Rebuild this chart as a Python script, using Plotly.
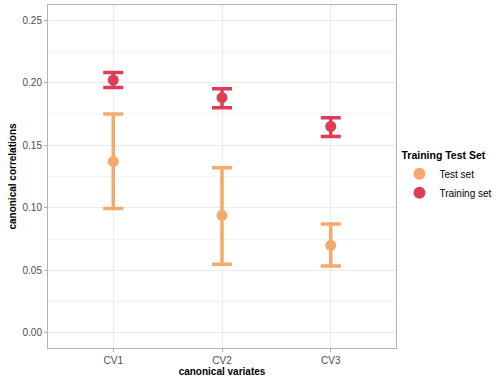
import plotly.graph_objects as go

categories = ["CV1", "CV2", "CV3"]

train_mean = [0.202, 0.188, 0.165]
train_lower = [0.196, 0.180, 0.157]
train_upper = [0.208, 0.195, 0.172]

test_mean = [0.137, 0.094, 0.070]
test_lower = [0.0995, 0.055, 0.0535]
test_upper = [0.175, 0.132, 0.087]

TEST_COLOR = "#F6A96C"
TRAIN_COLOR = "#DF3D56"
FONT = "Liberation Sans, Arial, sans-serif"

def err(mean, lower, upper):
    return dict(
        type="data",
        symmetric=False,
        array=[u - m for u, m in zip(upper, mean)],
        arrayminus=[m - l for m, l in zip(mean, lower)],
        thickness=3.5,
        width=10,
    )

fig = go.Figure()
fig.add_trace(go.Scatter(
    x=categories, y=test_mean, mode="markers", name="Test set",
    marker=dict(color=TEST_COLOR, size=11),
    error_y=dict(**err(test_mean, test_lower, test_upper), color=TEST_COLOR),
))
fig.add_trace(go.Scatter(
    x=categories, y=train_mean, mode="markers", name="Training set",
    marker=dict(color=TRAIN_COLOR, size=11),
    error_y=dict(**err(train_mean, train_lower, train_upper), color=TRAIN_COLOR),
))

axis_common = dict(
    showline=True, mirror=True, linecolor="#B3B3B3", linewidth=1,
    gridcolor="#EBEBEB", gridwidth=1, zeroline=False,
    ticks="outside", ticklen=3, tickcolor="#B3B3B3", automargin=False,
    tickfont=dict(family=FONT, size=10, color="#4D4D4D"),
)

fig.update_xaxes(
    **axis_common,
    type="category", range=[-0.6, 2.6],
    title=dict(text="<b>canonical variates</b>", standoff=2,
               font=dict(family=FONT, size=10, color="black")),
)
fig.update_yaxes(
    **axis_common,
    range=[-0.012, 0.262], tickvals=[0, 0.05, 0.10, 0.15, 0.20, 0.25],
    tickformat=".2f",
    minor=dict(tickvals=[0.025, 0.075, 0.125, 0.175, 0.225], showgrid=True,
               gridcolor="#F4F4F4", gridwidth=1, ticks=""),
    title=dict(text="<b>canonical correlations</b>", standoff=4,
               font=dict(family=FONT, size=10, color="black")),
)

fig.update_layout(
    width=503, height=378,
    margin=dict(l=48, r=107, t=5, b=30),
    plot_bgcolor="white", paper_bgcolor="white",
    font=dict(family=FONT, color="black"),
    legend=dict(
        title=dict(text="<b>Training Test Set</b>", font=dict(size=10.5)),
        font=dict(size=10),
        x=1.01, xanchor="left", y=0.59, yanchor="top",
        itemsizing="constant", tracegroupgap=0, itemwidth=30,
    ),
)

fig.write_html("out.html", config={"displayModeBar": False},
               post_script="document.body.style.margin='0';")
